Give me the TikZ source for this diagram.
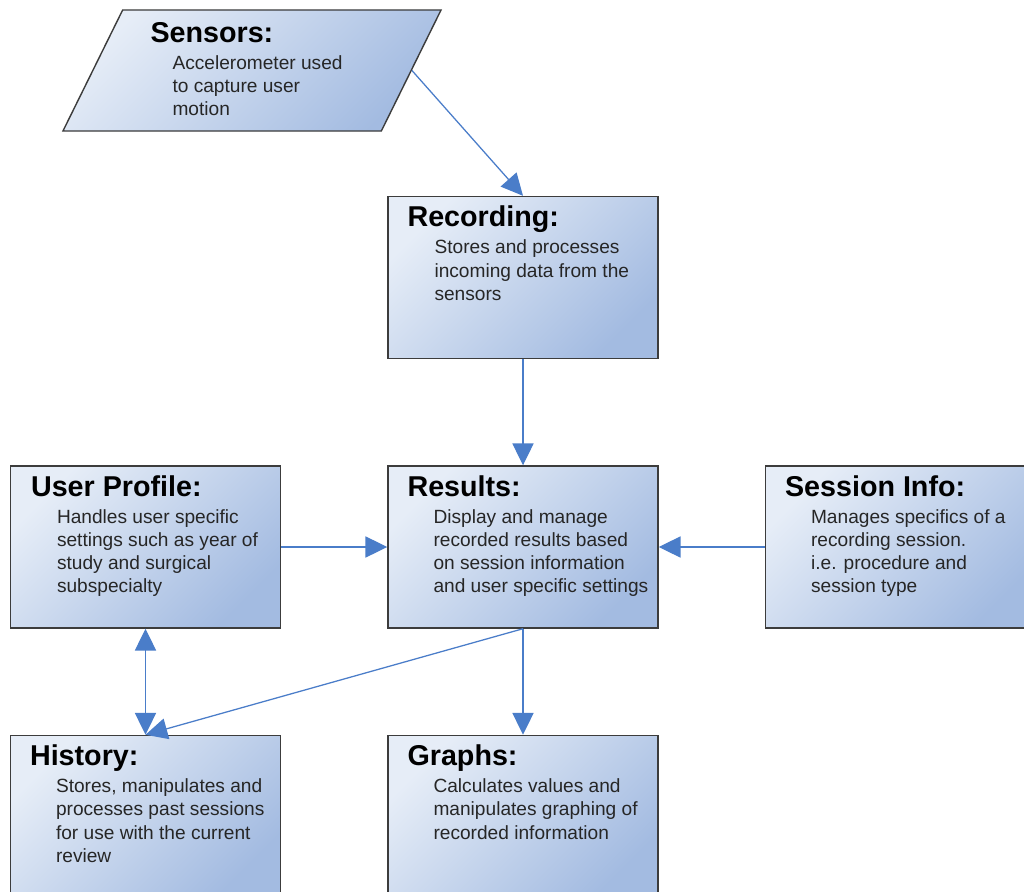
\documentclass[tikz,border=0pt]{standalone}
\usepackage{fontspec}
\setmainfont{Liberation Sans}
\usetikzlibrary{positioning,shapes.geometric,arrows.meta}
\definecolor{boxlight}{HTML}{E6EDF7}
\definecolor{boxdark}{HTML}{A3BBE1}
\definecolor{arrowblue}{HTML}{4A7DC9}
\definecolor{edgegray}{HTML}{3C3C3C}

\begin{document}
\begin{tikzpicture}[x=0.025cm,y=-0.025cm,node distance=2.65cm,
    >={Triangle[length=15.5pt,width=15pt]},
    block/.style={rectangle,draw=edgegray,line width=1pt,top color=boxlight,
      bottom color=boxdark,shading angle=45,minimum width=6.75cm,
      minimum height=4.05cm,inner sep=0pt},
    head/.style={anchor=base west,inner sep=0pt,
      font=\fontsize{20.4}{24}\selectfont\bfseries},
    body/.style={anchor=north west,inner sep=0pt,align=left,text=black!85,
      font=\fontsize{13.6}{16.4}\selectfont},
    link/.style={draw=arrowblue,line width=0.9pt,->}]
  \path[use as bounding box,clip] (0,0) rectangle (1024,892);
  \fill[white] (0,0) rectangle (1024,892);

  \node[block,trapezium,trapezium left angle=77,trapezium right angle=103,
    trapezium stretches=true,inner sep=3pt,minimum width=9.45cm,
    minimum height=3.025cm] (sensors) at (252,70.5) {};
  \node[block] (results) at (523,547) {};
  \node[block] (rec) [above=of results] {};
  \node[block] (userp) [left=of results] {};
  \node[block] (sess) [right=of results] {};
  \node[block] (graphs) [below=of results] {};
  \node[block] (hist) [below=of userp] {};

  % titles and descriptions
  \node[head] (sensorsT) at ([shift={(28,33)}]sensors.top left corner) {Sensors:};
  \node[body] (sensorsB) at ([shift={(50,46)}]sensors.top left corner)
    {Accelerometer used\\to capture user\\motion};
  \node[head] (recT) at ([shift={(20,31)}]rec.north west) {Recording:};
  \node[body] (recB) at ([shift={(47,44)}]rec.north west)
    {Stores and processes\\incoming data from the\\sensors};
  \node[head] (resultsT) at ([shift={(20,31)}]results.north west) {Results:};
  \node[body] (resultsB) at ([shift={(46,44)}]results.north west)
    {Display and manage\\recorded results based\\on session information\\and user specific settings};
  \node[head] (userpT) at ([shift={(21,31)}]userp.north west) {User Profile:};
  \node[body] (userpB) at ([shift={(47,44)}]userp.north west)
    {Handles user specific\\settings such as year of\\study and surgical\\subspecialty};
  \node[head] (sessT) at ([shift={(20,31)}]sess.north west) {Session Info:};
  \node[body] (sessB) at ([shift={(46,44)}]sess.north west)
    {Manages specifics of a\\recording session.\\i.e. procedure and\\session type};
  \node[head] (histT) at ([shift={(20,31)}]hist.north west) {History:};
  \node[body] (histB) at ([shift={(46,44)}]hist.north west)
    {Stores, manipulates and\\processes past sessions\\for use with the current\\review};
  \node[head] (graphsT) at ([shift={(20,31)}]graphs.north west) {Graphs:};
  \node[body] (graphsB) at ([shift={(46,44)}]graphs.north west)
    {Calculates values and\\manipulates graphing of\\recorded information};

  \path[link] (sensors.right side) -- (rec.north);
  \path[link] (rec.south) -- (results.north);
  \path[link] (userp.east) -- (results.west);
  \path[link] (sess.west) -- (results.east);
  \path[link,<->] (userp.south) -- (hist.north);
  \path[link] (results.south) -- (hist.north);
  \path[link] (results.south) -- (graphs.north);
\end{tikzpicture}
\end{document}
